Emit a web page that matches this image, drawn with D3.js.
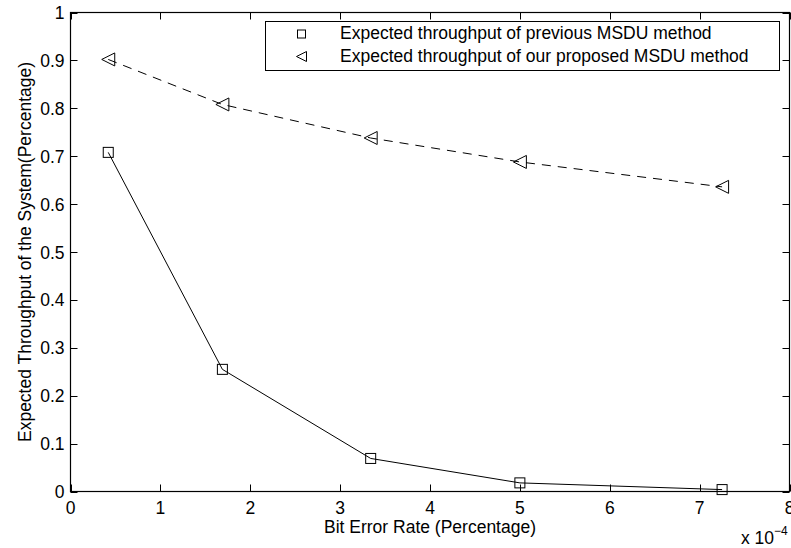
<!DOCTYPE html>
<html><head><meta charset="utf-8">
<script src="https://cdn.jsdelivr.net/npm/d3@7"></script>
<style>body{margin:0;background:#fff}svg{display:block}text{font-family:"Liberation Sans",Arial,sans-serif;fill:#000}</style>
</head><body><svg id="c" width="791" height="548"></svg>
<script>
const berX = [0.42, 1.69, 3.34, 5.0, 7.25];
const previous = [0.708, 0.255, 0.069, 0.018, 0.004];
const proposed = [0.902, 0.808, 0.738, 0.688, 0.636];
const xTicks = [0,1,2,3,4,5,6,7,8];
const yTicks = [0,0.1,0.2,0.3,0.4,0.5,0.6,0.7,0.8,0.9,1];
const legendLabels = ["Expected throughput of previous MSDU method","Expected throughput of our proposed MSDU method"];

const svg = d3.select("#c");
const L=70.5, R=789.5, T=12.5, B=491.5;
const x = d3.scaleLinear().domain([0,8]).range([L,R]);
const y = d3.scaleLinear().domain([0,1]).range([B,T]);
const fs = 17.5;

const tl = 7;
const g = svg.append("g").attr("stroke","#000").attr("stroke-width",1);
xTicks.forEach(v=>{
  const px = Math.round(x(v))+0.5;
  g.append("line").attr("x1",px).attr("x2",px).attr("y1",B).attr("y2",B-tl);
  g.append("line").attr("x1",px).attr("x2",px).attr("y1",T).attr("y2",T+tl);
});
yTicks.forEach(v=>{
  const py = Math.round(y(v))+0.5;
  g.append("line").attr("y1",py).attr("y2",py).attr("x1",L).attr("x2",L+tl);
  g.append("line").attr("y1",py).attr("y2",py).attr("x1",R).attr("x2",R-tl);
});
svg.append("rect").attr("x",L).attr("y",T).attr("width",R-L).attr("height",B-T)
  .attr("fill","none").attr("stroke","#000").attr("stroke-width",1.2);

xTicks.forEach(v=>{
  svg.append("text").attr("x",x(v)).attr("y",B+22).attr("text-anchor","middle")
    .attr("font-size",fs).text(v);
});
yTicks.forEach(v=>{
  svg.append("text").attr("x",L-6).attr("y",y(v)+6.5).attr("text-anchor","end")
    .attr("font-size",fs).text(v);
});
svg.append("text").attr("x",(L+R)/2).attr("y",533).attr("text-anchor","middle")
  .attr("font-size",fs).text("Bit Error Rate (Percentage)");
svg.append("text").attr("transform",`translate(31,${(T+B)/2}) rotate(-90)`)
  .attr("text-anchor","middle").attr("font-size",fs).text("Expected Throughput of the System(Percentage)");
const ex = svg.append("text").attr("x",741).attr("y",544).attr("font-size",fs);
ex.append("tspan").text("x 10");
ex.append("tspan").attr("dy",-9).attr("font-size",12).text("\u22124");

const line = d3.line().x(d=>x(d[0])).y(d=>y(d[1]));
const d1 = berX.map((v,i)=>[v,previous[i]]);
const d2 = berX.map((v,i)=>[v,proposed[i]]);
svg.append("path").attr("d",line(d1)).attr("fill","none").attr("stroke","#000").attr("stroke-width",1);
svg.append("path").attr("d",line(d2)).attr("fill","none").attr("stroke","#000").attr("stroke-width",1).attr("stroke-dasharray","9,7");

function square(sel,cx,cy,s){
  sel.append("rect").attr("x",cx-s).attr("y",cy-s).attr("width",2*s).attr("height",2*s)
   .attr("fill","none").attr("stroke","#000").attr("stroke-width",1);
}
function tri(sel,cx,cy,s){
  sel.append("path").attr("d",`M${cx-s},${cy} L${cx+s},${cy-s} L${cx+s},${cy+s} Z`)
   .attr("fill","none").attr("stroke","#000").attr("stroke-width",1);
}
d1.forEach(d=>square(svg,x(d[0]),y(d[1]),5));
d2.forEach(d=>tri(svg,x(d[0]),y(d[1]),6.5));

// legend
svg.append("rect").attr("x",265.5).attr("y",21.5).attr("width",514).attr("height",49)
  .attr("fill","#fff").attr("stroke","#000").attr("stroke-width",1);
square(svg,301.5,34,4);
tri(svg,301.5,56.5,5);
legendLabels.forEach((t,i)=>{
  svg.append("text").attr("x",340).attr("y",39+i*22.5).attr("font-size",fs).text(t);
});
</script></body></html>
